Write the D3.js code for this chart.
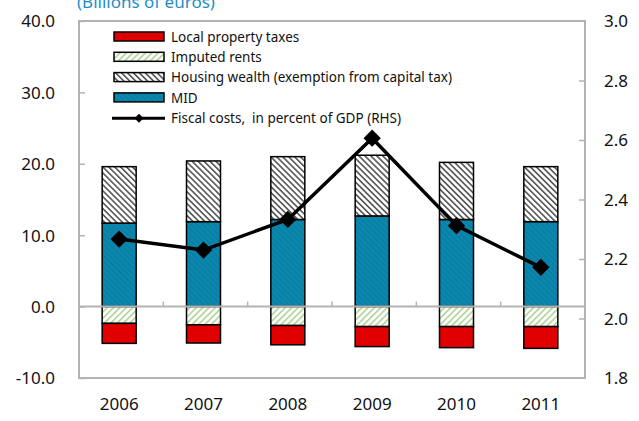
<!DOCTYPE html>
<meta charset="utf-8">
<style>
body{margin:0;background:#fff;}
text{font-family:"Noto Sans",sans-serif;fill:#111;}
.tick text{font-size:17px;}
.legend text{font-size:13.5px;white-space:pre;}
.title{font-size:17px;fill:#1e8fc6;}
</style>
<body>
<script src="https://d3js.org/d3.v7.min.js"></script>
<script>

// ---------- data ------------
var years = ["2006","2007","2008","2009","2010","2011"];
var mid = [11.7, 11.9, 12.2, 12.7, 12.2, 11.9];
var housingWealth = [7.9, 8.5, 8.8, 8.5, 8.0, 7.7];
var imputedRents = [-2.35, -2.55, -2.65, -2.8, -2.8, -2.8];
var localTaxes = [-2.8, -2.55, -2.7, -2.8, -2.95, -3.05];
var fiscalCosts = [2.267, 2.23, 2.333, 2.606, 2.312, 2.172];
var leftTicks = [-10, 0, 10, 20, 30, 40];
var rightTicks = [1.8, 2.0, 2.2, 2.4, 2.6, 2.8, 3.0];

var W = 639, H = 421;
var m = {left:79, right:54, top:21, bottom:43};

var svg = d3.select("body").append("svg").attr("width", W).attr("height", H);

// patterns
var defs = svg.append("defs");
function stripes(id, bg, fg, w, size, dir){
    var p = defs.append("pattern").attr("id", id)
        .attr("patternUnits","userSpaceOnUse").attr("width", size).attr("height", size)
        .attr("patternTransform","rotate(" + dir + ")");
    p.append("rect").attr("width", size).attr("height", size).attr("fill", bg);
    p.append("rect").attr("width", w).attr("height", size).attr("fill", fg);
}
stripes("hatchHousing", "#fff", "#555", 1.6, 4.2, -45);
stripes("hatchImputed", "#fff", "#a9d18e", 1.5, 4.5, 45);
stripes("hatchMid", "#0b87ad", "#097a9e", 1, 4, -45);

var fills = {local:"#e00000", imputed:"url(#hatchImputed)", housing:"url(#hatchHousing)", mid:"url(#hatchMid)"};

var fmt = d => d3.format(".1f")(d).replace("\u2212", "-");

var x = d3.scaleBand().domain(years).range([m.left, W - m.right]).paddingInner(0).paddingOuter(0);
var y = d3.scaleLinear().domain([-10, 40]).range([H - m.bottom, m.top]);
var y2 = d3.scaleLinear().domain([1.8, 3.0]).range([H - m.bottom, m.top]);

// title (partly off the top, as in the source)
svg.append("text").attr("class","title").attr("x", 77).attr("y", 8).text("(Billions of euros)");

// frame
svg.append("rect").attr("x", m.left).attr("y", m.top)
    .attr("width", W - m.left - m.right).attr("height", H - m.top - m.bottom)
    .attr("fill","none").attr("stroke","#b3b3b3").attr("stroke-width",2);

// left axis
var gl = svg.append("g").attr("transform","translate(" + m.left + ",0)")
    .call(d3.axisRight(y).tickValues(leftTicks).tickSize(6).tickFormat(fmt));
gl.select(".domain").remove();
gl.selectAll(".tick line").attr("stroke","#b3b3b3").attr("stroke-width",1.5);
gl.selectAll(".tick text").attr("x", -24).attr("text-anchor","end").attr("dy","0.35em");

// right axis
var gr = svg.append("g").attr("transform","translate(" + (W - m.right) + ",0)")
    .call(d3.axisLeft(y2).tickValues(rightTicks).tickSize(6).tickFormat(fmt));
gr.select(".domain").remove();
gr.selectAll(".tick line").attr("stroke","#b3b3b3").attr("stroke-width",1.5);
gr.selectAll(".tick text").attr("x", 19).attr("text-anchor","start").attr("dy","0.35em");
gr.selectAll(".tick").filter(function(d){return d === 3.0 || d === 1.8;}).select("line").remove();

// bars
var bw = 34;
var stack = years.map(function(yr, i){
    return [
        {key:"mid", y0:0, y1:mid[i]},
        {key:"housing", y0:mid[i], y1:mid[i] + housingWealth[i]},
        {key:"imputed", y0:0, y1:imputedRents[i]},
        {key:"local", y0:imputedRents[i], y1:imputedRents[i] + localTaxes[i]}
    ].map(function(s){ s.year = yr; return s; });
});

var gb = svg.append("g");
stack.forEach(function(segs){
    gb.selectAll(null).data(segs).enter().append("rect")
        .attr("x", d => x(d.year) + x.bandwidth()/2 - bw/2 - 2)
        .attr("width", bw)
        .attr("y", d => y(Math.max(d.y0, d.y1)))
        .attr("height", d => Math.abs(y(d.y0) - y(d.y1)))
        .attr("fill", d => fills[d.key])
        .attr("stroke","#000").attr("stroke-width",1.5);
});

// zero line + category ticks
svg.append("line").attr("x1", m.left).attr("x2", W - m.right)
    .attr("y1", y(0)).attr("y2", y(0)).attr("stroke","#b3b3b3").attr("stroke-width",2);
svg.selectAll(".cattick").data(years.slice(1)).enter().append("line")
    .attr("x1", d => x(d)).attr("x2", d => x(d))
    .attr("y1", y(0)).attr("y2", y(0) - 5).attr("stroke","#b3b3b3").attr("stroke-width",1.5);

// x labels
var gx = svg.append("g").attr("transform","translate(-2," + (H - m.bottom) + ")")
    .call(d3.axisBottom(x).tickSize(0).tickPadding(20));
gx.select(".domain").remove();

// line on right axis
var line = d3.line().x((d, i) => x(years[i]) + x.bandwidth()/2 - 2).y(d => y2(d));
svg.append("path").datum(fiscalCosts).attr("d", line)
    .attr("fill","none").attr("stroke","#000").attr("stroke-width",3.5);
svg.selectAll(".marker").data(fiscalCosts).enter().append("path")
    .attr("d", d3.symbol().type(d3.symbolSquare).size(150))
    .attr("transform", (d, i) => "translate(" + (x(years[i]) + x.bandwidth()/2 - 2) + "," + y2(d) + ") rotate(45)")
    .attr("fill","#000");

// legend
var legendItems = [
    {label:"Local property taxes", fill:fills.local},
    {label:"Imputed rents", fill:fills.imputed},
    {label:"Housing wealth (exemption from capital tax)", fill:fills.housing},
    {label:"MID", fill:fills.mid},
    {label:"Fiscal costs,  in percent of GDP (RHS)", line:true}
];
var lg = svg.append("g").attr("class","legend");
legendItems.forEach(function(it, i){
    var cy = 37 + i * 20.3;
    if (it.line){
        lg.append("line").attr("x1", 112).attr("x2", 165).attr("y1", cy).attr("y2", cy)
            .attr("stroke","#000").attr("stroke-width",3);
        lg.append("path").attr("d", d3.symbol().type(d3.symbolSquare).size(40))
            .attr("transform","translate(139," + cy + ") rotate(45)").attr("fill","#000");
    } else {
        lg.append("rect").attr("x", 114).attr("y", cy - 5).attr("width", 50).attr("height", 9)
            .attr("fill", it.fill).attr("stroke","#000").attr("stroke-width",1.5);
    }
    lg.append("text").attr("x", 171).attr("y", cy).attr("dy","0.35em").text(it.label);
});
</script>
</body>
